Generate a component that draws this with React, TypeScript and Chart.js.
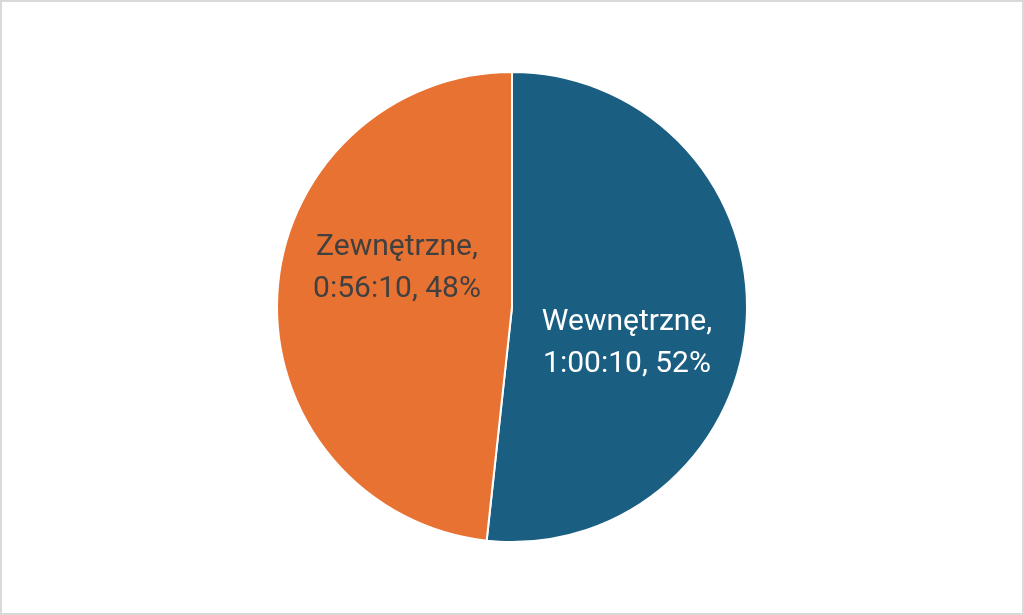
import { useEffect, useRef } from "react"
import { Chart, registerables, ArcElement } from "chart.js"

Chart.register(...registerables)

// Czas w sekundach (1:00:10 i 0:56:10)
const categories = ["Wewnętrzne", "Zewnętrzne"]
const durations = [3610, 3370]
const colors = ["#1a5f82", "#e87232"]
const labelColors = ["#ffffff", "#404040"]

const fmtTime = (s: number) => {
  const h = Math.floor(s / 3600)
  const m = Math.floor((s % 3600) / 60)
  const sec = s % 60
  return `${h}:${String(m).padStart(2, "0")}:${String(sec).padStart(2, "0")}`
}

// Excel-like data labels drawn inside each slice
const sliceLabels = {
  id: "sliceLabels",
  afterDatasetsDraw(chart: Chart) {
    const ctx = chart.ctx
    const meta = chart.getDatasetMeta(0)
    const data = chart.data.datasets[0].data as number[]
    const total = data.reduce((a, b) => a + b, 0)
    const yShift = [30, -32]
    ctx.save()
    ctx.font = "30px Roboto"
    ctx.textAlign = "center"
    ctx.textBaseline = "middle"
    meta.data.forEach((el, i) => {
      const arc = el as unknown as ArcElement
      const { x, y, startAngle, endAngle, outerRadius } = arc.getProps(
        ["x", "y", "startAngle", "endAngle", "outerRadius"],
        true
      ) as any
      const mid = (startAngle + endAngle) / 2
      const r = outerRadius * 0.49
      const cx = x + Math.cos(mid) * r
      const cy = y + Math.sin(mid) * r + yShift[i]
      const pct = Math.round((data[i] / total) * 100)
      ctx.fillStyle = labelColors[i]
      ctx.fillText(`${chart.data.labels![i]},`, cx, cy - 21)
      ctx.fillText(`${fmtTime(data[i])}, ${pct}%`, cx, cy + 21)
    })
    ctx.restore()
  },
}

export default function App() {
  const chartRef = useRef<HTMLCanvasElement>(null)
  const chartInstance = useRef<Chart | null>(null)

  useEffect(() => {
    if (!chartRef.current) return
    if (chartInstance.current) chartInstance.current.destroy()

    chartInstance.current = new Chart(chartRef.current, {
      type: "pie",
      data: {
        labels: categories,
        datasets: [
          {
            data: durations,
            backgroundColor: colors,
            borderColor: "#ffffff",
            borderWidth: 2,
          },
        ],
      },
      options: {
        animation: false,
        responsive: true,
        maintainAspectRatio: false,
        layout: { padding: { top: 69, bottom: 70 } },
        plugins: {
          legend: { display: false },
          tooltip: { enabled: false },
        },
      },
      plugins: [sliceLabels],
    })

    return () => {
      if (chartInstance.current) {
        chartInstance.current.destroy()
        chartInstance.current = null
      }
    }
  }, [])

  return (
    <div
      style={{
        position: "fixed",
        left: 0,
        top: 0,
        width: 1024,
        height: 615,
        boxSizing: "border-box",
        border: "2px solid #d9d9d9",
        background: "#ffffff",
      }}
    >
      <canvas ref={chartRef} />
    </div>
  )
}
